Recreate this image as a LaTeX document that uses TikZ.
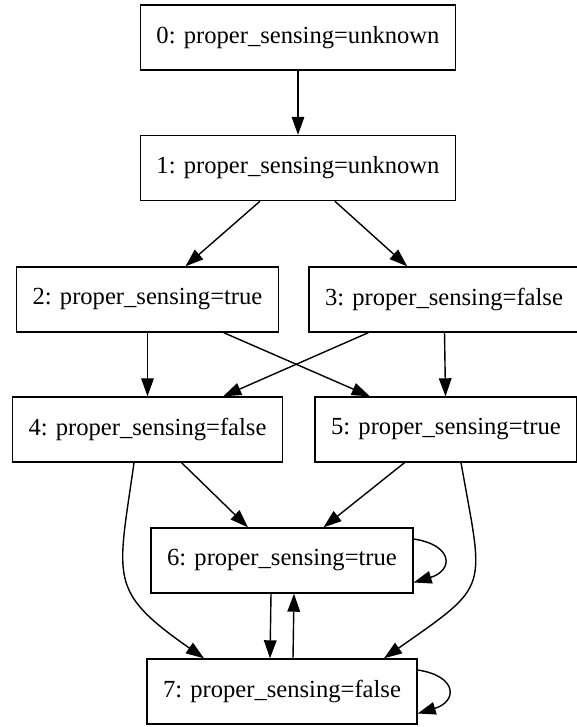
\documentclass[tikz,border=0pt]{standalone}
\usepackage{fontspec}
\setmainfont{Liberation Serif}
\usetikzlibrary{arrows.meta}

\begin{document}
\begin{tikzpicture}[x=0.5pt, y=-0.5pt,
  state/.style={draw, rectangle, line width=0.7pt, minimum height=32.5pt, inner xsep=8pt, inner ysep=0pt, font=\fontsize{12.3}{15}\selectfont},
  edge/.style={line width=0.7pt, -{Triangle[length=9pt, width=6.3pt]}}]
  \useasboundingbox (0,0) rectangle (577,727);
  % Nodes
  \node[state] (0) at (298, 37.5) {0: proper\_sensing=unknown};
  \node[state] (1) at (298, 168) {1: proper\_sensing=unknown};
  \node[state] (2) at (147.5, 299.5) {2: proper\_sensing=true};
  \node[state] (3) at (444, 299.5) {3: proper\_sensing=false};
  \node[state] (4) at (147.5, 429.5) {4: proper\_sensing=false};
  \node[state] (5) at (446, 429.5) {5: proper\_sensing=true};
  \node[state] (6) at (282, 560.5) {6: proper\_sensing=true};
  \node[state] (7) at (282, 691.5) {7: proper\_sensing=false};

  % Edges
  \draw[edge] (0) -- (1);
  \draw[edge] (1) -- (2);
  \draw[edge] (1) -- (3);
  \draw[edge] (2) -- (4);
  \draw[edge] (2) -- (5);
  \draw[edge] (3) -- (4);
  \draw[edge] (3) -- (5);
  \draw[edge] (4) -- (6);
  \draw[edge] (5) -- (6);
  \draw[edge] ([xshift=-6.75pt]4.south) to[out=-98, in=145, looseness=1.45] ([xshift=-39pt]7.north);
  \draw[edge] ([xshift=7.5pt]5.south) to[out=-80, in=35, looseness=1.6] ([xshift=51pt]7.north);
  \draw[edge] ([xshift=-5.5pt]6.south) -- ([xshift=-6pt]7.north);
  \draw[edge] ([xshift=5.5pt]7.north) -- ([xshift=6pt]6.south);
  \draw[edge] ([yshift=10.75pt]6.east) .. controls +(20pt,-3pt) and +(20pt,6pt) .. ([yshift=-11pt]6.east);
  \draw[edge] ([yshift=10.75pt]7.east) .. controls +(20pt,-3pt) and +(20pt,6pt) .. ([yshift=-11pt]7.east);
\end{tikzpicture}
\end{document}
